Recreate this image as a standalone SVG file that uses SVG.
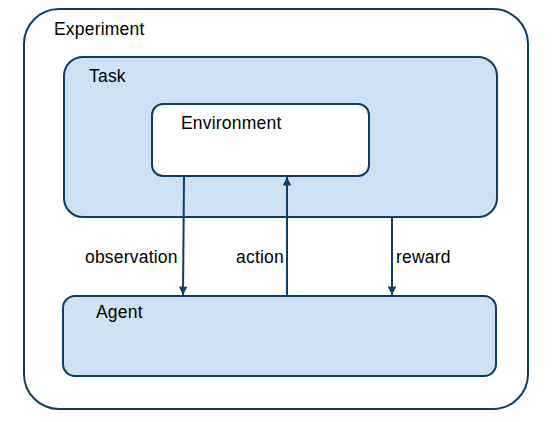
<svg xmlns="http://www.w3.org/2000/svg" width="557" height="422" viewBox="0 0 557 422">
<style>
.box{stroke:#0e3d66;stroke-width:2}
.blue{fill:#cfe2f3}
.white{fill:#ffffff}
text{font-family:"Liberation Sans",Arial,sans-serif;font-size:17.5px;letter-spacing:0.2px;fill:#000}
.conn{stroke:#0e3d66;stroke-width:2;fill:none}
</style>
<defs>
<marker id="arr" viewBox="0 0 10 10" refX="10" refY="5" markerWidth="5.5" markerHeight="4.2" orient="auto" markerUnits="strokeWidth">
<path d="M0,0 L10,5 L0,10 z" fill="#0e3d66"/>
</marker>
</defs>
<rect width="557" height="422" fill="#ffffff"/>
<g id="experiment">
<rect class="box white" x="24" y="9" width="504" height="400" rx="35" ry="35"/>
<text x="54" y="35">Experiment</text>
</g>
<g id="task">
<rect class="box blue" x="64" y="57" width="433" height="160" rx="19" ry="19"/>
<text x="89" y="82">Task</text>
</g>
<g id="environment">
<rect class="box white" x="152" y="104" width="217" height="72" rx="11" ry="11"/>
<text x="181" y="129">Environment</text>
</g>
<g id="agent">
<rect class="box blue" x="63" y="296" width="433" height="80" rx="12" ry="12"/>
<text x="96" y="318">Agent</text>
</g>
<g id="connectors">
<line class="conn" x1="184" y1="177" x2="183" y2="295" marker-end="url(#arr)"/>
<line class="conn" x1="287" y1="296" x2="287" y2="177" marker-end="url(#arr)"/>
<line class="conn" x1="392" y1="217" x2="392" y2="295" marker-end="url(#arr)"/>
<text x="85" y="263">observation</text>
<text x="236" y="263">action</text>
<text x="396" y="263">reward</text>
</g>
</svg>
